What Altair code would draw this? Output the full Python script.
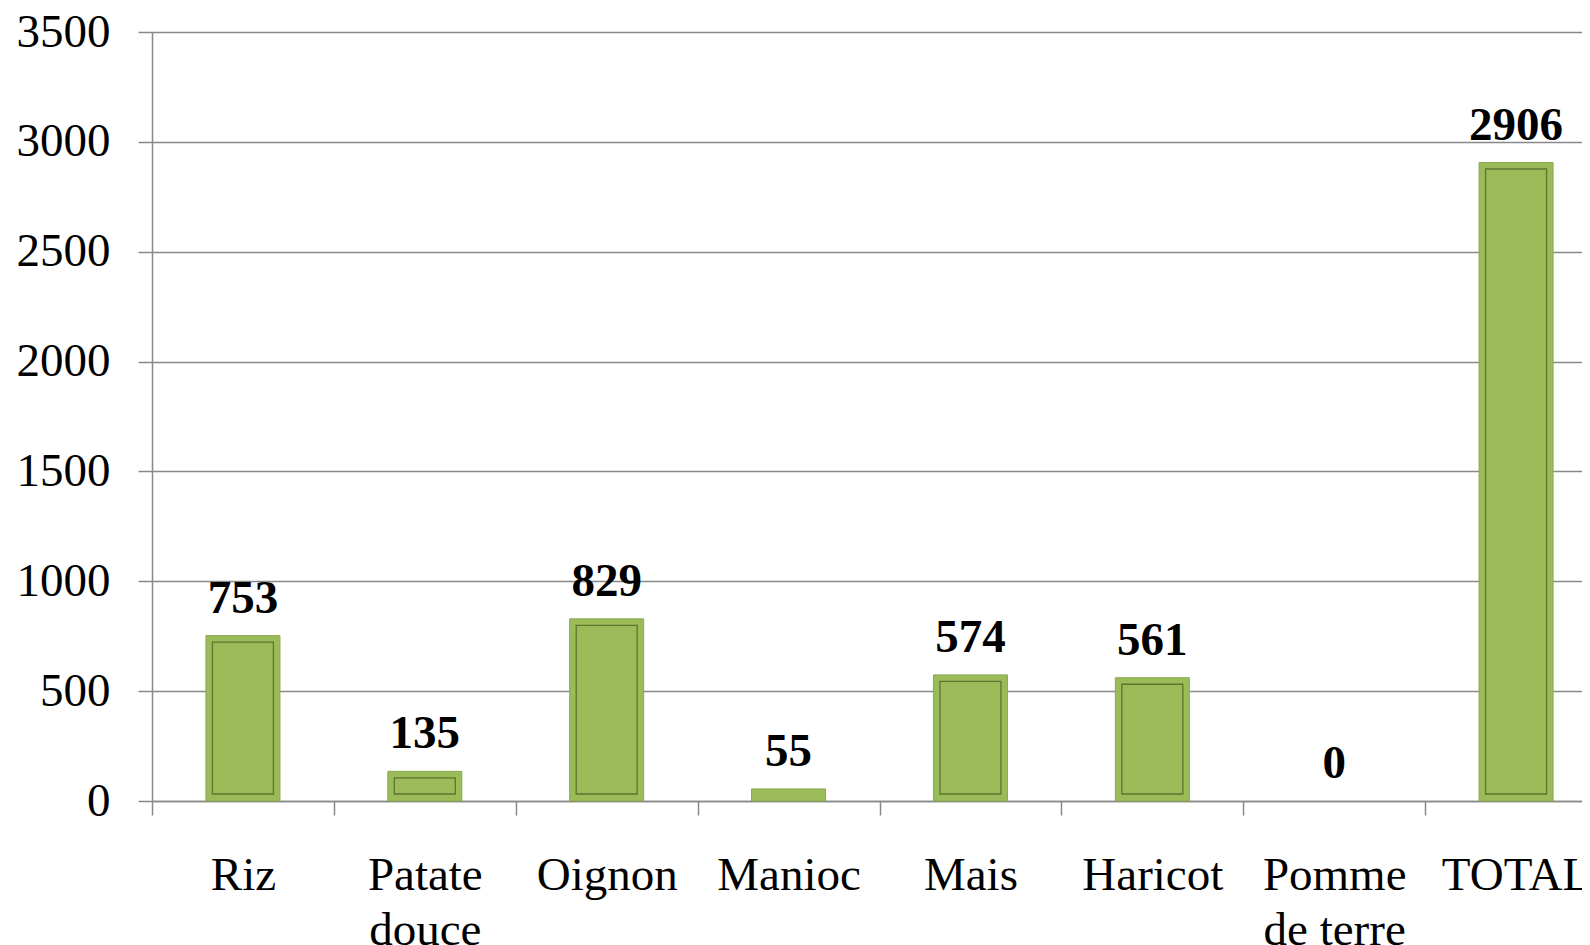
import altair as alt
import pandas as pd

categories = ["Riz", "Patate douce", "Oignon", "Manioc", "Mais", "Haricot", "Pomme de terre", "TOTAL"]
labels = ["Riz", "Patate\ndouce", "Oignon", "Manioc", "Mais", "Haricot", "Pomme\nde terre", "TOTAL"]
values = [753, 135, 829, 55, 574, 561, 0, 2906]
y_ticks = [0, 500, 1000, 1500, 2000, 2500, 3000, 3500]

df = pd.DataFrame({"cat": labels, "value": values, "name": categories})

FONT = "Liberation Serif"
GRID = "#898989"

x = alt.X(
    "cat:N",
    sort=None,
    title=None,
    scale=alt.Scale(domain=labels, range=[0, 1455], paddingInner=0, paddingOuter=0),
    axis=alt.Axis(
        labelExpr="isString(datum.value) ? split(datum.value, '\\n') : ''",
        labelFont=FONT,
        labelFontSize=47,
        labelColor="black",
        labelAngle=0,
        labelLineHeight=55,
        labelPadding=37,
        labelBaseline="top",
        tickBand="extent",
        tickSize=14,
        tickColor=GRID,
        tickWidth=1.5,
        domainColor=GRID,
        domainWidth=1.5,
        grid=False,
    ),
)
y = alt.Y(
    "value:Q",
    title=None,
    scale=alt.Scale(domain=[0, 3500], nice=False),
    axis=alt.Axis(
        values=y_ticks,
        format="d",
        labelFont=FONT,
        labelFontSize=47,
        labelColor="black",
        labelPadding=28,
        tickSize=14,
        tickColor=GRID,
        tickWidth=1.5,
        domainColor=GRID,
        domainWidth=1.5,
        gridColor=GRID,
        gridWidth=1.5,
    ),
)

base = alt.Chart(df)

bars = base.transform_filter("datum.value > 0").mark_bar(
    size=74, color="#9bbb59", stroke="#8aa84f", strokeWidth=1
).encode(x=x, y=y)
inner = base.transform_filter("datum.value > 100").mark_bar(
    size=61, fillOpacity=0, stroke="#5e7431", strokeWidth=1.3, yOffset=6.5, y2Offset=-7
).encode(x=x, y=y, y2=alt.datum(0))
text = base.mark_text(
    font=FONT, fontSize=47, fontWeight="bold", baseline="alphabetic", dy=-23, color="black"
).encode(x=x, y=y, text=alt.Text("value:Q"))

chart = (
    alt.layer(bars, inner, text)
    .properties(
        width=1430,
        height=769,
        autosize=alt.AutoSizeParams(type="none"),
        padding={"left": 144, "top": 24, "right": 0, "bottom": 144},
        background="white",
    )
    .configure_view(stroke=None)
)

chart.save("out.html", embed_options={"renderer": "svg", "actions": False})
